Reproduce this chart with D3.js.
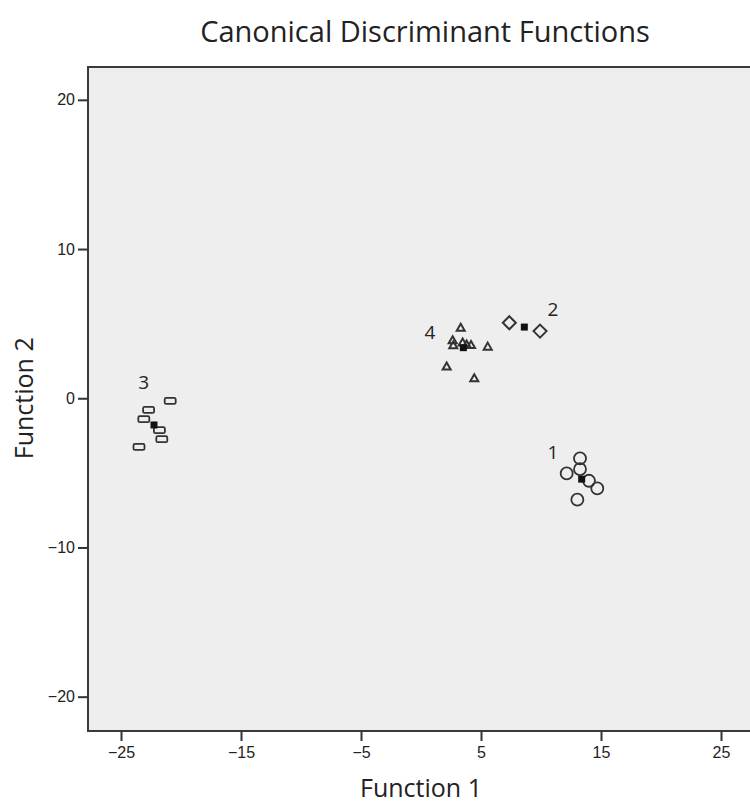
<!DOCTYPE html>
<html>
<head>
<meta charset="utf-8">
<script src="https://cdn.jsdelivr.net/npm/d3@7"></script>
<style>
  body { margin: 0; background: #fff; }
  svg text { fill: #222; }
</style>
</head>
<body>
<div id="chart"></div>
<script>
// group cases (Function 1, Function 2)
var group1 = [[13.25, -4.03], [13.25, -4.75], [12.14, -5.04], [14.0, -5.53], [14.69, -6.04], [13.03, -6.8]];
var group2 = [[7.36, 5.06], [9.92, 4.5]];
var group3 = [[-20.9, -0.18], [-22.7, -0.78], [-23.1, -1.4], [-21.8, -2.14], [-21.6, -2.74], [-23.5, -3.26]];
var group4 = [[3.31, 4.73], [2.64, 3.88], [2.69, 3.55], [3.47, 3.73], [3.8, 3.6], [4.17, 3.57], [5.56, 3.46], [2.14, 2.12], [4.44, 1.34]];

// group centroids
var centroids = [[13.39, -5.42], [8.61, 4.77], [-22.25, -1.79], [3.53, 3.39]];
var centroidLabels = ["1", "2", "3", "4"];
var labelPos = [[11.0, -3.63], [11.0, 5.97], [-23.1, 1.07], [0.75, 4.43]];

var xTicks = [-25, -15, -5, 5, 15, 25];
var yTicks = [-20, -10, 0, 10, 20];

var width = 750, height = 803;
var margin = {top: 67, left: 88};
var plotW = 672, plotH = 664;

var svg = d3.select("#chart").append("svg")
  .attr("width", width)
  .attr("height", height);

// 12 px per unit horizontally, plot runs off the right edge like the source
var x = d3.scaleLinear().domain([-27.75, -27.75 + plotW / 12]).range([margin.left, margin.left + plotW]);
var y = d3.scaleLinear().domain([22.2, -22.3]).range([margin.top, margin.top + plotH]);

// plot background + frame
svg.append("rect")
  .attr("x", margin.left).attr("y", margin.top)
  .attr("width", plotW).attr("height", plotH)
  .attr("fill", "#eeeeee")
  .attr("stroke", "#3a3a3a")
  .attr("stroke-width", 2);

// axes
var xAxis = svg.append("g")
  .attr("transform", "translate(0," + (margin.top + plotH) + ")")
  .call(d3.axisBottom(x).tickValues(xTicks).tickSize(10).tickSizeOuter(0).tickPadding(6));

var yAxis = svg.append("g")
  .attr("transform", "translate(" + margin.left + ",0)")
  .call(d3.axisLeft(y).tickValues(yTicks).tickSize(10).tickSizeOuter(0).tickPadding(3));

[xAxis, yAxis].forEach(function(a) {
  a.select(".domain").remove();
  a.selectAll(".tick line").attr("stroke", "#333").attr("stroke-width", 2);
  a.selectAll(".tick text")
    .style("font-family", "'Liberation Sans', Arial, sans-serif")
    .style("font-size", "16px")
    .attr("fill", "#2a2a2a");
});

// markers
var ink = "#333";
var g = svg.append("g");

g.selectAll("circle.g1").data(group1).enter().append("circle")
  .attr("class", "g1")
  .attr("cx", function(d) { return x(d[0]); })
  .attr("cy", function(d) { return y(d[1]); })
  .attr("r", 6)
  .attr("fill", "none")
  .attr("stroke", ink)
  .attr("stroke-width", 1.8);

g.selectAll("path.g2").data(group2).enter().append("path")
  .attr("class", "g2")
  .attr("d", "M0,-6.5L6.5,0L0,6.5L-6.5,0Z")
  .attr("transform", function(d) { return "translate(" + x(d[0]) + "," + y(d[1]) + ")"; })
  .attr("fill", "none")
  .attr("stroke", ink)
  .attr("stroke-width", 2);

g.selectAll("rect.g3").data(group3).enter().append("rect")
  .attr("class", "g3")
  .attr("x", function(d) { return x(d[0]) - 5.5; })
  .attr("y", function(d) { return y(d[1]) - 3; })
  .attr("width", 11).attr("height", 6)
  .attr("rx", 1.5)
  .attr("fill", "none")
  .attr("stroke", ink)
  .attr("stroke-width", 1.8);

g.selectAll("path.g4").data(group4).enter().append("path")
  .attr("class", "g4")
  .attr("d", "M0,-4L4,3L-4,3Z")
  .attr("transform", function(d) { return "translate(" + x(d[0]) + "," + y(d[1]) + ")"; })
  .attr("fill", "none")
  .attr("stroke", ink)
  .attr("stroke-width", 2);

// centroids
g.selectAll("rect.cen").data(centroids).enter().append("rect")
  .attr("class", "cen")
  .attr("x", function(d) { return x(d[0]) - 3.5; })
  .attr("y", function(d) { return y(d[1]) - 3.5; })
  .attr("width", 7).attr("height", 7)
  .attr("fill", "#111");

g.selectAll("text.lab").data(labelPos).enter().append("text")
  .attr("class", "lab")
  .attr("x", function(d) { return x(d[0]); })
  .attr("y", function(d) { return y(d[1]); })
  .attr("dy", "0.35em")
  .attr("text-anchor", "middle")
  .style("font-family", "'Open Sans', sans-serif")
  .style("font-size", "19px")
  .text(function(d, i) { return centroidLabels[i]; });

// titles
svg.append("text")
  .attr("x", 425).attr("y", 42)
  .attr("text-anchor", "middle")
  .style("font-family", "'Open Sans', sans-serif")
  .style("font-size", "29px")
  .text("Canonical Discriminant Functions");

svg.append("text")
  .attr("x", 421).attr("y", 797)
  .attr("text-anchor", "middle")
  .style("font-family", "'Open Sans', sans-serif")
  .style("font-size", "25px")
  .text("Function 1");

svg.append("text")
  .attr("transform", "translate(33," + y(0) + ") rotate(-90)")
  .attr("text-anchor", "middle")
  .style("font-family", "'Open Sans', sans-serif")
  .style("font-size", "25px")
  .text("Function 2");
</script>
</body>
</html>
